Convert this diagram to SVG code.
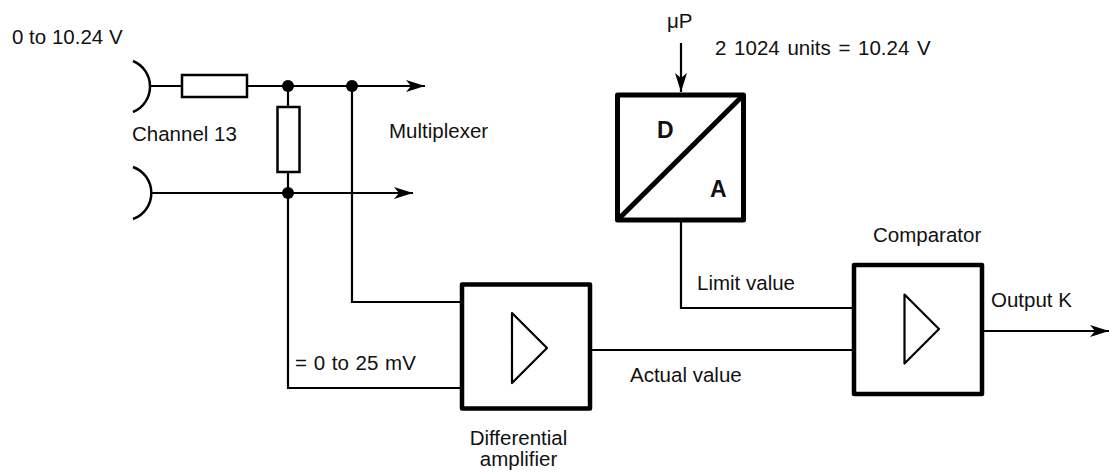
<svg xmlns="http://www.w3.org/2000/svg" width="1109" height="473" viewBox="0 0 1109 473">
<style>
.w{fill:none;stroke:#000;stroke-width:2.2;stroke-linecap:square}
.a{fill:none;stroke:#000;stroke-width:2.2;stroke-linecap:butt}
.r{fill:#fff;stroke:#000;stroke-width:2.5}
.box{fill:#fff;stroke:#000;stroke-width:4.5;stroke-linejoin:round}
.tri{fill:none;stroke:#000;stroke-width:2.2;stroke-linejoin:round}
.dot{fill:#000}
text{font-family:"Liberation Sans",Arial,Helvetica,sans-serif;font-size:20.5px;fill:#111}
.b{font-weight:bold;font-size:23px}
</style>
<defs>
<marker id="ah" markerUnits="userSpaceOnUse" markerWidth="22" markerHeight="14" refX="19" refY="7" orient="auto">
<path d="M0,1 L19,7 L0,13 L5,7 z" fill="#000"/>
</marker>
</defs>
<rect width="1109" height="473" fill="#fff"/>
<g id="connectors">
<path class="w" d="M150,86 H182"/>
<path class="a" d="M247,86 H425" marker-end="url(#ah)"/>
<path class="a" d="M150,193 H413" marker-end="url(#ah)"/>
<path class="w" d="M288,86 V107"/>
<path class="w" d="M288,172 V388 H460"/>
<path class="w" d="M352,86 V302 H460"/>
<path class="w" d="M592,350 H852"/>
<path class="a" d="M681,43 V92" marker-end="url(#ah)"/>
<path class="w" d="M681,222 V308 H852"/>
<path class="a" d="M984,331 H1109" marker-end="url(#ah)"/>
</g>
<g id="input-top">
<path d="M133,61 A27.6,27.6 0 0 1 133,112" fill="none" stroke="#000" stroke-width="2.5"/>
</g>
<g id="input-bottom">
<path d="M133,167 A27.6,27.6 0 0 1 133,219" fill="none" stroke="#000" stroke-width="2.5"/>
</g>
<g id="resistor-series">
<rect class="r" x="182" y="75" width="65" height="22"/>
</g>
<g id="resistor-shunt">
<rect class="r" x="277.5" y="107" width="22" height="65"/>
</g>
<g id="junctions">
<circle class="dot" cx="288" cy="86" r="6"/>
<circle class="dot" cx="352" cy="86" r="6"/>
<circle class="dot" cx="288" cy="193" r="6"/>
</g>
<g id="da-converter">
<rect x="617.5" y="95" width="126" height="125" fill="#fff" stroke="#000" stroke-width="5" stroke-linejoin="round"/>
<path d="M617.5,220 L743.5,95" stroke="#000" stroke-width="5"/>
<text class="b" x="657" y="138">D</text>
<text class="b" x="710" y="197">A</text>
</g>
<g id="differential-amplifier">
<rect class="box" x="462" y="284.5" width="128" height="124"/>
<path class="tri" d="M512,313 L547,348 L512,383 Z"/>
</g>
<g id="comparator">
<rect class="box" x="854" y="265" width="128" height="129"/>
<path class="tri" d="M904.5,294.5 L939,329 L904.5,363.5 Z"/>
</g>
<g id="labels">
<text x="12" y="44">0 to 10.24 V</text>
<text x="132" y="141">Channel 13</text>
<text x="389" y="138">Multiplexer</text>
<text x="667" y="28">μP</text>
<text x="715" y="55" word-spacing="2">2 1024 units = 10.24 V</text>
<text x="873" y="242">Comparator</text>
<text x="697" y="290">Limit value</text>
<text x="991" y="307">Output K</text>
<text x="295" y="370" word-spacing="1">= 0 to 25 mV</text>
<text x="630" y="382">Actual value</text>
<text x="518.5" y="445" text-anchor="middle">Differential</text>
<text x="518.5" y="466" text-anchor="middle">amplifier</text>
</g>
</svg>
